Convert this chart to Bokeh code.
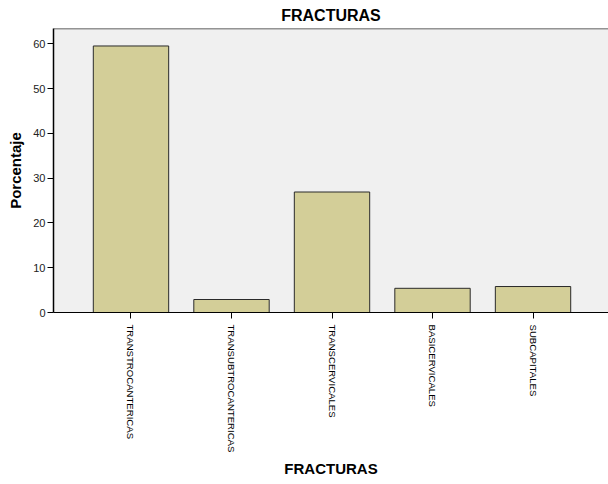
from bokeh.plotting import figure
from bokeh.models import Range1d, FixedTicker, Span, ColumnDataSource
from bokeh.embed import file_html
from bokeh.resources import INLINE
import math

categories = ["TRANSTROCANTERICAS", "TRANSUBTROCANTERICAS", "TRANSCERVICALES",
              "BASICERVICALES", "SUBCAPITALES"]
percentages = [59.5, 2.9, 26.9, 5.4, 5.8]
y_ticks = [0, 10, 20, 30, 40, 50, 60]

FONT = "Liberation Sans"

xs = list(range(len(categories)))
src = ColumnDataSource(dict(x=xs, top=percentages, cat=categories))

p = figure(width=608, height=484, output_backend="svg", toolbar_location=None,
           x_range=Range1d(-0.771, 4.751), y_range=Range1d(0, 63.4),
           min_border_left=53, min_border_right=0, min_border_top=0, min_border_bottom=172,
           title="FRACTURAS")

p.background_fill_color = "#F0F0F0"
p.border_fill_color = "white"
p.outline_line_color = None
p.grid.visible = False

p.vbar(x="x", top="top", width=0.75, source=src, fill_color="#D3CE98",
       line_color="#2A2A2A", line_width=1)

p.add_layout(Span(location=63.4, dimension="width", line_color="#333333", line_width=1.5))

p.title.align = "center"
p.title.text_font = FONT
p.title.text_font_size = "16px"
p.title.text_font_style = "bold"
p.title.text_color = "black"
p.title.standoff = 9

xa = p.xaxis[0]
xa.ticker = FixedTicker(ticks=xs)
xa.major_label_overrides = {i: c for i, c in enumerate(categories)}
xa.major_label_orientation = -math.pi / 2
xa.major_label_text_font = FONT
xa.major_label_text_font_size = "9.6px"
xa.major_label_text_color = "black"
xa.major_tick_out = 6
xa.major_tick_in = 0
xa.minor_tick_line_color = None
xa.axis_line_color = "black"
xa.major_tick_line_color = "black"
xa.major_label_standoff = 6
xa.axis_label = "FRACTURAS"
xa.axis_label_text_font = FONT
xa.axis_label_text_font_size = "15px"
xa.axis_label_text_font_style = "bold"
xa.axis_label_text_color = "black"
xa.axis_label_standoff = 5

ya = p.yaxis[0]
ya.ticker = FixedTicker(ticks=y_ticks)
ya.major_label_text_font = FONT
ya.major_label_text_font_size = "11px"
ya.major_label_text_color = "#222222"
ya.major_tick_out = 6
ya.major_tick_in = 0
ya.minor_tick_line_color = None
ya.axis_line_color = "black"
ya.axis_line_width = 1.5
ya.major_tick_line_color = "black"
ya.major_label_standoff = 2
ya.axis_label = "Porcentaje"
ya.axis_label_text_font = FONT
ya.axis_label_text_font_size = "15px"
ya.axis_label_text_font_style = "bold"
ya.axis_label_text_color = "black"
ya.axis_label_standoff = 6

open("out.html", "w").write(file_html(p, INLINE))
